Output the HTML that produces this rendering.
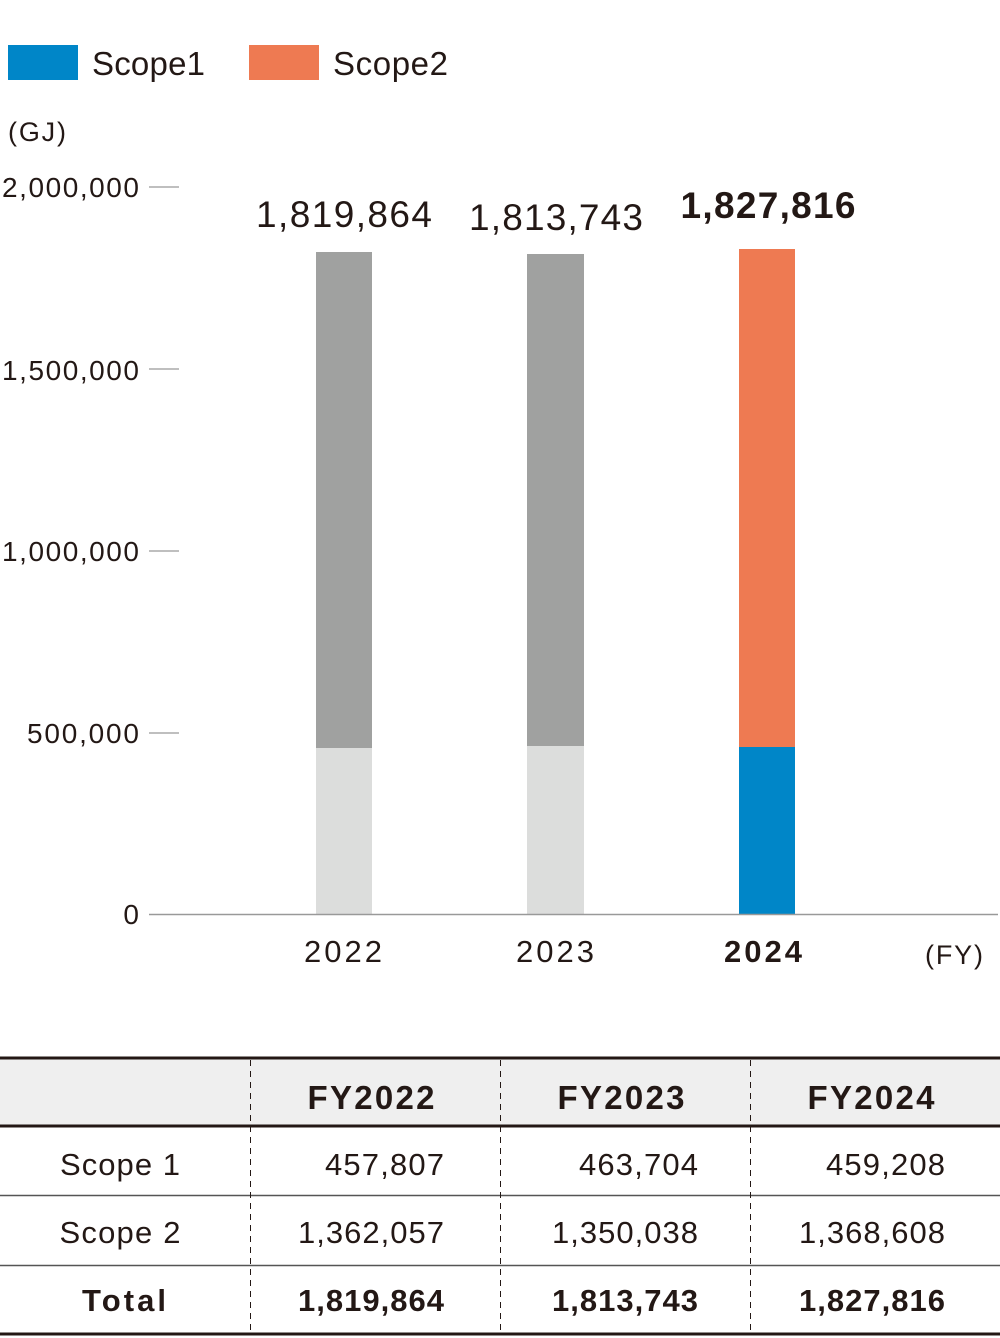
<!DOCTYPE html>
<html><head><meta charset="utf-8"><style>
body{margin:0;background:#fff}
svg{display:block}
text{font-family:"Liberation Sans","Noto Sans CJK JP",sans-serif;fill:#231815}
</style></head><body>
<svg width="1000" height="1338" viewBox="0 0 1000 1338">
<rect x="8" y="45" width="70" height="35" fill="#0086c8"/>
<text x="92" y="75" font-size="33" textLength="113">Scope1</text>
<rect x="249" y="45" width="70" height="35" fill="#ee7a52"/>
<text x="333" y="75" font-size="33" textLength="115">Scope2</text>
<text x="8" y="141" font-size="27" textLength="58">(GJ)</text>
<g font-size="28" text-anchor="end">
<text x="139" y="197" textLength="137">2,000,000</text>
<text x="139" y="380" textLength="137">1,500,000</text>
<text x="139" y="561" textLength="137">1,000,000</text>
<text x="139" y="743" textLength="112">500,000</text>
<text x="139" y="924">0</text>
</g>
<g stroke="#999" stroke-width="1.2">
<line x1="149" y1="187" x2="179" y2="187"/>
<line x1="149" y1="369" x2="179" y2="369"/>
<line x1="149" y1="551" x2="179" y2="551"/>
<line x1="149" y1="733" x2="179" y2="733"/>
</g>
<rect x="316" y="252" width="56" height="496" fill="#a0a1a0"/>
<rect x="316" y="748" width="56" height="166" fill="#dcdddc"/>
<rect x="527" y="254" width="57" height="492" fill="#a0a1a0"/>
<rect x="527" y="746" width="57" height="168" fill="#dcdddc"/>
<rect x="739" y="249" width="56" height="498" fill="#ee7a52"/>
<rect x="739" y="747" width="56" height="167" fill="#0086c8"/>
<line x1="149" y1="914.5" x2="998" y2="914.5" stroke="#999" stroke-width="1.5"/>
<g font-size="37" text-anchor="middle">
<text x="344" y="227" textLength="176">1,819,864</text>
<text x="556" y="230" textLength="174">1,813,743</text>
<text x="768" y="218" font-weight="bold" textLength="175">1,827,816</text>
</g>
<g font-size="31" text-anchor="middle">
<text x="343" y="962" textLength="78">2022</text>
<text x="555" y="962" textLength="78">2023</text>
<text x="763" y="962" font-weight="bold" textLength="78">2024</text>
</g>
<text x="954" y="964" font-size="27" text-anchor="middle" textLength="58">(FY)</text>
<rect x="0" y="1059" width="1000" height="66" fill="#efefef"/>
<line x1="0" y1="1058" x2="1000" y2="1058" stroke="#231815" stroke-width="3"/>
<line x1="0" y1="1126" x2="1000" y2="1126" stroke="#231815" stroke-width="3"/>
<line x1="0" y1="1195.5" x2="1000" y2="1195.5" stroke="#555" stroke-width="1.5"/>
<line x1="0" y1="1265.5" x2="1000" y2="1265.5" stroke="#555" stroke-width="1.5"/>
<line x1="0" y1="1334" x2="1000" y2="1334" stroke="#231815" stroke-width="3"/>
<g stroke="#231815" stroke-width="1" stroke-dasharray="6,5">
<line x1="250.5" y1="1060" x2="250.5" y2="1333"/>
<line x1="500.5" y1="1060" x2="500.5" y2="1333"/>
<line x1="750.5" y1="1060" x2="750.5" y2="1333"/>
</g>
<g font-size="33" font-weight="bold" text-anchor="middle">
<text x="371" y="1109" textLength="127">FY2022</text>
<text x="621" y="1109" textLength="127">FY2023</text>
<text x="871" y="1109" textLength="127">FY2024</text>
</g>
<g font-size="31" text-anchor="middle">
<text x="120" y="1175" textLength="120">Scope 1</text>
<text x="120" y="1243" textLength="121">Scope 2</text>
<text x="124" y="1311" font-weight="bold" textLength="84">Total</text>
</g>
<g font-size="31" text-anchor="end">
<text x="444" y="1175" textLength="119">457,807</text>
<text x="698" y="1175" textLength="119">463,704</text>
<text x="945" y="1175" textLength="119">459,208</text>
<text x="444" y="1243" textLength="146">1,362,057</text>
<text x="698" y="1243" textLength="146">1,350,038</text>
<text x="945" y="1243" textLength="146">1,368,608</text>
<g font-weight="bold">
<text x="444" y="1311" textLength="146">1,819,864</text>
<text x="698" y="1311" textLength="146">1,813,743</text>
<text x="945" y="1311" textLength="146">1,827,816</text>
</g>
</g>
</svg>
</body></html>
